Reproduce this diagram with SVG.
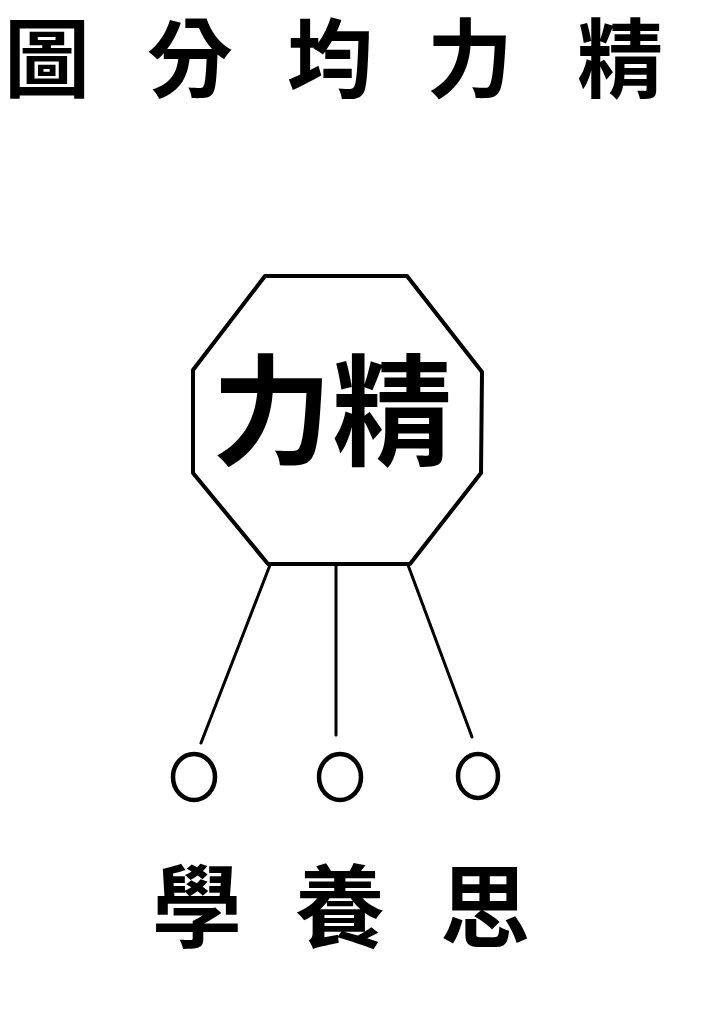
<svg xmlns="http://www.w3.org/2000/svg" width="702" height="1026" viewBox="0 0 702 1026">
<style>
.bg{fill:#ffffff}
.cjk{font-family:"Noto Sans CJK TC","Noto Sans CJK SC",sans-serif;font-weight:700;fill:#000;text-anchor:middle}
.title{font-size:86px}
.big{font-size:120px}
.lab{font-size:90px}
.shape{fill:none;stroke:#000;stroke-width:4;stroke-linejoin:round}
.conn{fill:none;stroke:#000;stroke-width:3;stroke-linecap:round}
.ring{fill:none;stroke:#000;stroke-width:4.5}
</style>
<rect class="bg" x="0" y="0" width="702" height="1026"/>
<g id="title">
<text class="cjk title" x="47" y="91">圖</text>
<text class="cjk title" x="190" y="91">分</text>
<text class="cjk title" x="330" y="91">均</text>
<text class="cjk title" x="470" y="91">力</text>
<text class="cjk title" x="620" y="91">精</text>
</g>
<g id="node-jingli">
<polygon class="shape" points="265,276 407,276 482,372 481,473 410,564 268,564 193,473 193,370"/>
<text class="cjk big" x="272" y="456">力</text>
<text class="cjk big" x="392" y="456">精</text>
</g>
<g id="connectors">
<line class="conn" x1="270" y1="565" x2="201" y2="743"/>
<line class="conn" x1="336" y1="565" x2="336" y2="735"/>
<line class="conn" x1="408" y1="565" x2="472" y2="737"/>
</g>
<g id="node-xue">
<ellipse class="ring" cx="194" cy="777" rx="21" ry="23"/>
<text class="cjk lab" x="197" y="940">學</text>
</g>
<g id="node-yang">
<ellipse class="ring" cx="340" cy="777" rx="21" ry="23"/>
<text class="cjk lab" x="340" y="940">養</text>
</g>
<g id="node-si">
<ellipse class="ring" cx="478" cy="776" rx="20" ry="22"/>
<text class="cjk lab" x="485" y="940">思</text>
</g>
</svg>
